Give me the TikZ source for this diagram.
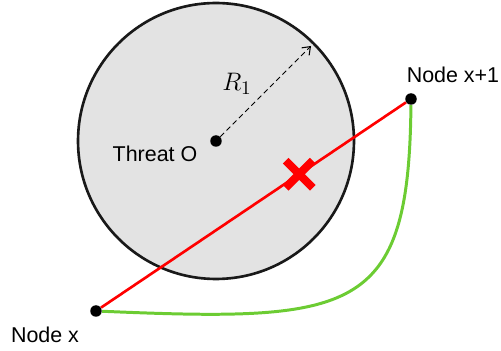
\documentclass[tikz,border=0pt]{standalone}
\usepackage{fontspec}
\setmainfont{Liberation Sans}
\usetikzlibrary{arrows.meta, shapes.misc}

\begin{document}
\begin{tikzpicture}[x=0.02cm, y=-0.02cm,
  dot/.style={circle, fill=black, inner sep=0pt, minimum size=0.23cm},
  label/.style={font=\fontsize{12.2}{14}\selectfont, inner sep=0pt},
  zone/.style={draw=black!90, line width=1.5pt, fill=gray!22},
  path/.style={draw=red, line width=1.5pt},
  detour/.style={draw=green!50!lime!60!gray, line width=1.7pt},
  radius arrow/.style={draw, densely dashed, line width=0.6pt, -{Straight Barb[length=4pt, width=6pt]}},
  hit/.style={cross out, draw=red, line width=4.6pt, minimum size=0.38cm, inner sep=0pt}]
  \useasboundingbox (0,0) rectangle (501,351);
  % threat zone
  \draw [zone] (216,141) circle [radius=2.76cm];
  \node [dot] (o) at (216,141) {};
  \coordinate (rim) at (311,46);
  \draw [radius arrow] (o) -- (rim);
  \node [font=\fontsize{15}{17}\selectfont] (r1) at (237,84) {$R_1$};
  \node [label, anchor=base] (threat) at (155,162) {Threat O};
  % nodes
  \node [dot] (nx) at (96,311) {};
  \node [dot] (nx1) at (411,99) {};
  \node [label, anchor=base] (nxlab) at (45,343) {Node x};
  \node [label, anchor=base] (nx1lab) at (453,83) {Node x+1};
  % paths
  \draw [path] (nx) -- node [hit, pos=0.65] (cross) {} (nx1);
  \draw [detour] (nx) .. controls (355,322) and (409,315) .. (nx1);
\end{tikzpicture}
\end{document}
